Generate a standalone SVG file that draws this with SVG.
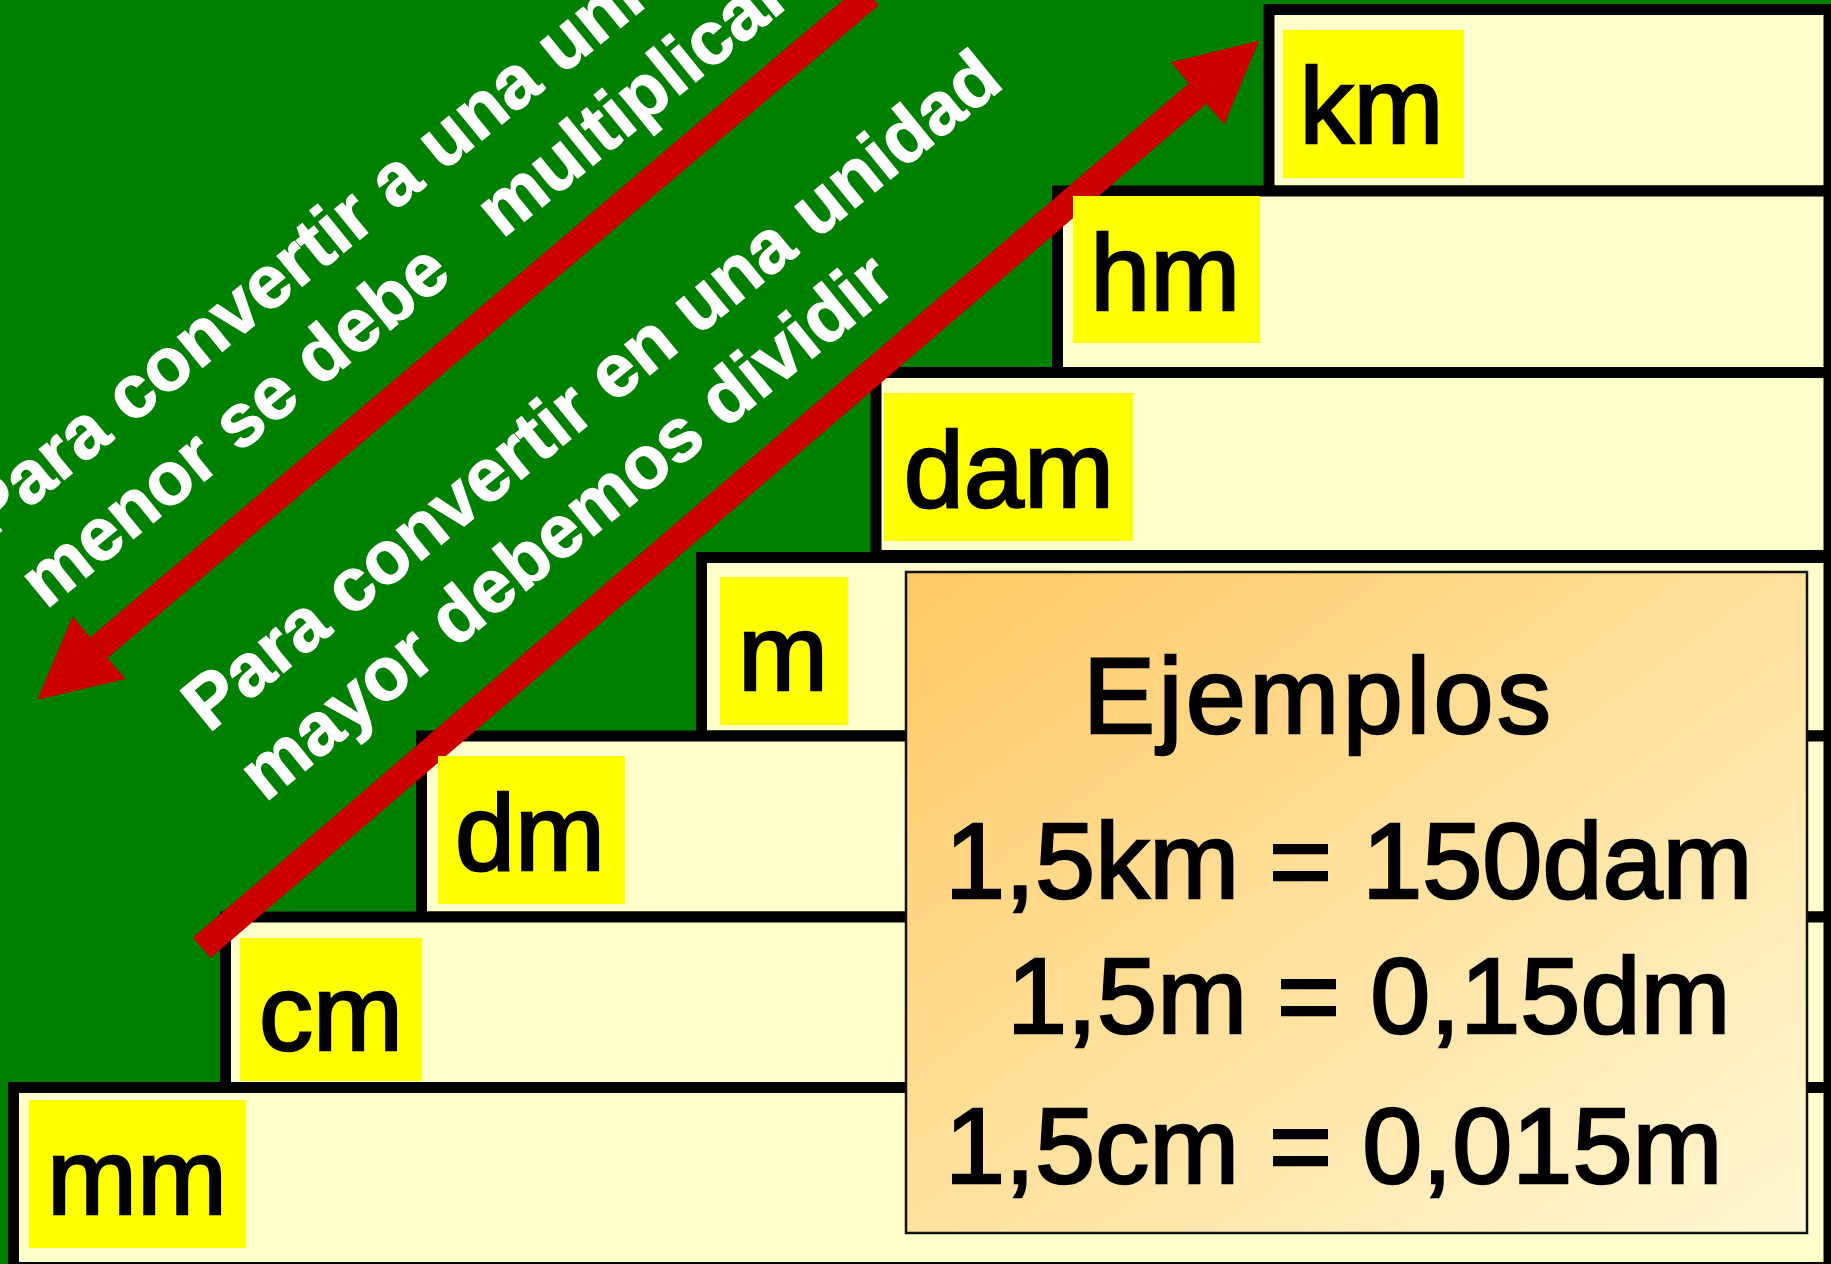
<svg xmlns="http://www.w3.org/2000/svg" width="1831" height="1264" viewBox="0 0 1831 1264">
<defs>
<style>
.frame{fill:#FFFFCC;stroke:#000;stroke-width:11}
.tag{fill:#FFFF00}
.unit{font-family:"Liberation Sans",Arial,sans-serif;font-size:108px;fill:#000;stroke:#000;stroke-width:2.5}
.note{font-family:"Liberation Sans",Arial,sans-serif;font-size:74.5px;font-weight:bold;fill:#fff;stroke:#fff;stroke-width:1.2}
.ex{font-family:"Liberation Sans",Arial,sans-serif;font-size:108px;fill:#000;stroke:#000;stroke-width:2.5}
.arrow{stroke:#CC0000;stroke-width:27;fill:none;marker-end:url(#head)}
</style>
<marker id="head" markerUnits="userSpaceOnUse" markerWidth="82" markerHeight="82" viewBox="0 0 82 82" refX="0" refY="41" orient="auto"><path d="M0,0 L81,41 L0,82 z" fill="#CC0000"/></marker>
<linearGradient id="exfill" x1="0" y1="0" x2="1" y2="1"><stop offset="0" stop-color="#FFC966"/><stop offset="1" stop-color="#FFF8D4"/></linearGradient>
</defs>
<rect x="0" y="0" width="1831" height="1264" fill="#008000"/>
<g id="stairs">
<rect class="frame" x="1269" y="9.5" width="560" height="181.5"/>
<rect class="frame" x="1057.5" y="191" width="771.5" height="181.5"/>
<rect class="frame" x="876" y="372.5" width="953" height="183"/>
<rect class="frame" x="701.5" y="557.5" width="1127.5" height="178.5"/>
<rect class="frame" x="421.5" y="736" width="1407.5" height="181"/>
<rect class="frame" x="225.5" y="917" width="1603.5" height="170.5"/>
<rect class="frame" x="13.5" y="1087.5" width="1815.5" height="180"/>
</g>
<g id="notes" class="note">
<g transform="translate(-10.5,540.5) rotate(-39.1)"><text x="0" y="0">Para convertir a una unidad</text><text x="0" y="89.6">menor se debe&#160;&#160; multiplicar</text></g>
<g transform="translate(208.7,733.5) rotate(-39.1)"><text x="0" y="0">Para convertir en una unidad</text><text x="0" y="89.6">mayor debemos dividir</text></g>
</g>
<g id="connectors">
<path class="arrow" d="M870,-5 L99,647.5"/>
<path class="arrow" d="M201.7,947.8 L1197.5,93.5"/>
</g>
<g id="km"><rect class="tag" x="1283" y="30" width="181" height="148"/><text class="unit" x="1299.6" y="143">km</text></g>
<g id="hm"><rect class="tag" x="1073" y="196" width="187" height="147"/><text class="unit" x="1090.3" y="310">hm</text></g>
<g id="dam"><rect class="tag" x="884" y="393" width="249" height="148"/><text class="unit" x="903.8" y="507">dam</text></g>
<g id="m"><rect class="tag" x="720" y="577" width="128" height="148"/><text class="unit" x="738" y="690">m</text></g>
<g id="dm"><rect class="tag" x="438" y="756" width="187" height="148"/><text class="unit" x="455" y="870">dm</text></g>
<g id="cm"><rect class="tag" x="240" y="938" width="182" height="143"/><text class="unit" x="259" y="1050">cm</text></g>
<g id="mm"><rect class="tag" x="29" y="1100" width="217" height="148"/><text class="unit" x="47" y="1214">mm</text></g>
<g id="ejemplos">
<rect x="906" y="572" width="901" height="661" fill="url(#exfill)" stroke="#111" stroke-width="2.5"/>
<text class="ex" x="1083" y="733" textLength="468" lengthAdjust="spacing">Ejemplos</text>
<text class="ex" x="945" y="898">1,5km = 150dam</text>
<text class="ex" x="1007" y="1033">1,5m = 0,15dm</text>
<text class="ex" x="945" y="1183">1,5cm = 0,015m</text>
</g>
</svg>
